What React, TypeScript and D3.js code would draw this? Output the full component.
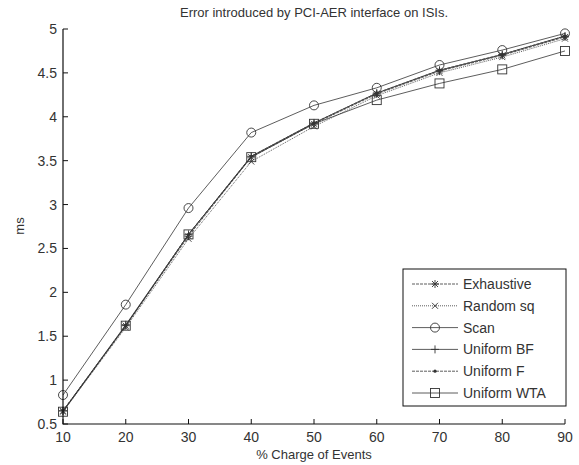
import React from "react";
import * as d3 from "d3";

const charge = [10, 20, 30, 40, 50, 60, 70, 80, 90];
const exhaustive = [0.65, 1.62, 2.64, 3.54, 3.92, 4.26, 4.52, 4.7, 4.91];
const randomSq = [0.64, 1.6, 2.61, 3.49, 3.89, 4.24, 4.5, 4.68, 4.89];
const scan = [0.83, 1.86, 2.96, 3.82, 4.13, 4.33, 4.59, 4.76, 4.95];
const uniformBF = [0.65, 1.63, 2.66, 3.55, 3.93, 4.27, 4.53, 4.71, 4.92];
const uniformF = [0.65, 1.62, 2.66, 3.55, 3.93, 4.27, 4.53, 4.71, 4.92];
const uniformWTA = [0.64, 1.62, 2.66, 3.54, 3.92, 4.19, 4.38, 4.54, 4.75];
const yTicks = [0.5, 1, 1.5, 2, 2.5, 3, 3.5, 4, 4.5, 5];

const series = [
    { name: "Exhaustive", values: exhaustive, marker: "star", dash: "3,1" },
    { name: "Random sq", values: randomSq, marker: "x", dash: "1,1" },
    { name: "Scan", values: scan, marker: "circle", dash: "" },
    { name: "Uniform BF", values: uniformBF, marker: "plus", dash: "" },
    { name: "Uniform F", values: uniformF, marker: "dot", dash: "3,1" },
    { name: "Uniform WTA", values: uniformWTA, marker: "square", dash: "" },
];

const W = 579;
const H = 465;
const left = 63;
const right = 565;
const top = 29;
const bottom = 424;
const font = "'Liberation Sans', Arial, sans-serif";
const ink = "#333";

const Marker = ({ type, x, y }: { type: string; x: number; y: number }) => {
    const s = 4;
    const p = { stroke: ink, strokeWidth: 0.9, fill: "none" };
    if (type === "circle") return <circle cx={x} cy={y} r={4.5} {...p} fill="white" fillOpacity={0} />;
    if (type === "square") return <rect x={x - 4.5} y={y - 4.5} width={9} height={9} {...p} />;
    if (type === "dot") return <circle cx={x} cy={y} r={1.6} fill={ink} />;
    if (type === "plus")
        return (
            <path d={`M${x - s},${y}H${x + s}M${x},${y - s}V${y + s}`} {...p} />
        );
    if (type === "x")
        return (
            <path d={`M${x - 3},${y - 3}L${x + 3},${y + 3}M${x - 3},${y + 3}L${x + 3},${y - 3}`} {...p} />
        );
    // star
    return (
        <path
            d={`M${x - s},${y}H${x + s}M${x},${y - s}V${y + s}M${x - 3},${y - 3}L${x + 3},${y + 3}M${x - 3},${y + 3}L${x + 3},${y - 3}`}
            {...p}
        />
    );
};

const App = () => {
    const x = d3.scaleLinear().domain([10, 90]).range([left, right]);
    const y = d3.scaleLinear().domain([0.5, 5]).range([bottom, top]);
    const line = d3
        .line<number>()
        .x((d, i) => x(charge[i]))
        .y((d) => y(d));

    const legX = 403;
    const legY = 269;
    const legW = 163;
    const legH = 137;
    const rowH = 21.8;

    return (
        <svg
            width={W}
            height={H}
            style={{ position: "absolute", left: 0, top: 0, background: "white" }}
            fontFamily={font}
        >
            <text x={314} y={17} textAnchor="middle" fontSize={13} fill={ink}>
                Error introduced by PCI-AER interface on ISIs.
            </text>

            {series.map((s) => (
                <g key={s.name}>
                    <path
                        d={line(s.values) || ""}
                        fill="none"
                        stroke={ink}
                        strokeWidth={0.8}
                        strokeDasharray={s.dash}
                    />
                    {s.values.map((v, i) => (
                        <Marker key={i} type={s.marker} x={x(charge[i])} y={y(v)} />
                    ))}
                </g>
            ))}

            {/* axes */}
            <path d={`M${left},${top}V${bottom}H${right}`} fill="none" stroke="#111" strokeWidth={1.2} />
            {yTicks.map((t) => (
                <g key={t}>
                    <line x1={left} x2={left + 5} y1={y(t)} y2={y(t)} stroke="#111" />
                    <text x={left - 6} y={y(t) + 5} textAnchor="end" fontSize={14} fill={ink}>
                        {t}
                    </text>
                </g>
            ))}
            {charge.map((t) => (
                <g key={t}>
                    <line x1={x(t)} x2={x(t)} y1={bottom} y2={bottom - 5} stroke="#111" />
                    <text x={x(t)} y={bottom + 18} textAnchor="middle" fontSize={14} fill={ink}>
                        {t}
                    </text>
                </g>
            ))}
            <text x={314} y={459} textAnchor="middle" fontSize={13} fill={ink}>
                % Charge of Events
            </text>
            <text
                transform={`translate(24,226) rotate(-90)`}
                textAnchor="middle"
                fontSize={13}
                fill={ink}
            >
                ms
            </text>

            {/* legend */}
            <rect x={legX} y={legY} width={legW} height={legH} fill="white" stroke="#111" strokeWidth={1} />
            {series.map((s, i) => {
                const cy = legY + 15 + i * rowH;
                return (
                    <g key={s.name}>
                        <line x1={412} x2={458} y1={cy} y2={cy} stroke={ink} strokeWidth={0.8} strokeDasharray={s.dash} />
                        <Marker type={s.marker} x={435} y={cy} />
                        <text x={463} y={cy + 5} fontSize={14} fill={ink}>
                            {s.name}
                        </text>
                    </g>
                );
            })}
        </svg>
    );
};

export default App;
